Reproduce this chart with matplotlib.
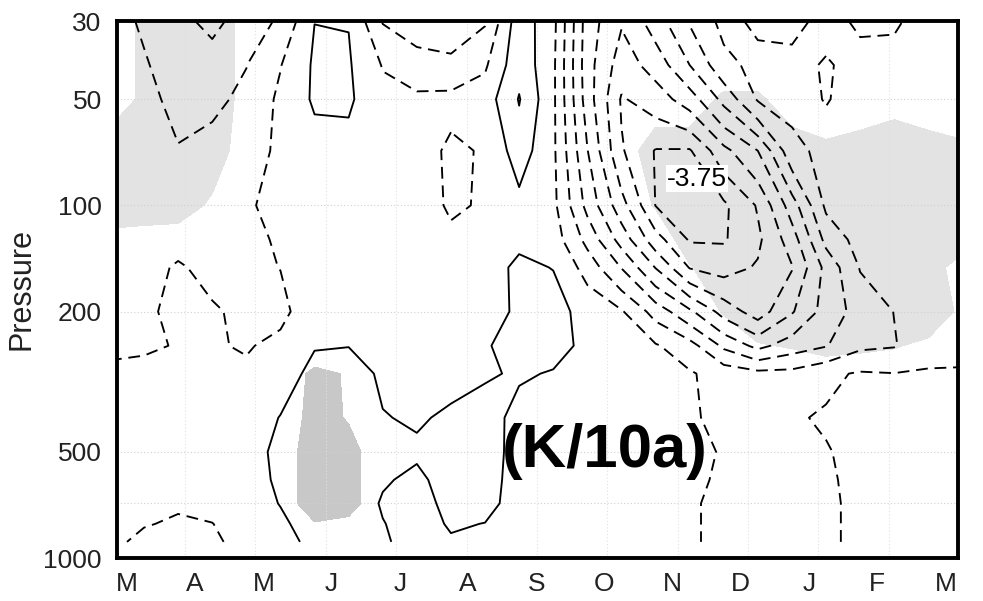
import numpy as np
import matplotlib
matplotlib.use("Agg")
import matplotlib.pyplot as plt
from matplotlib.ticker import NullLocator

plt.rcParams['font.family'] = ['Liberation Sans', 'DejaVu Sans']
plt.rcParams['lines.dashed_pattern'] = [6.3, 3.6]

# ---------------- data ----------------
month_labels = ["M", "A", "M", "J", "J", "A", "S", "O", "N", "D", "J", "F", "M"]
month_ticks = list(range(13))
pressure_ticks = [30, 50, 100, 200, 500, 1000]

# grid of the trend field: time (months from March) x pressure (hPa)
time_axis = [-0.25, 0.25, 0.75, 1.25, 1.75, 2.25, 2.75, 3.25, 3.75, 4.25, 4.75, 5.25, 5.75,
             6.25, 6.75, 7.25, 7.75, 8.25, 8.75, 9.25, 9.75, 10.25, 10.75, 11.25, 11.75, 12.25]
pressure_levels = [30, 40, 50, 70, 100, 125, 150, 200, 250, 300, 400, 500, 600, 700, 800, 900]

# temperature trend (K/10a), one row per pressure level
trend_p30 = [-0.55, -0.82, -1.1, -1.4, -1.0, -0.68, 0.245, 0.235, -0.78, -1.0, -1.0, -0.8, 0.55, -0.1, -2.0, -2.7, -2.0, -1.2, -0.6, -0.85, -0.85, -0.65, -0.8, -0.8, -0.6, -0.55]
trend_p40 = [-0.6, -0.7, -1.0, -1.0, -0.76, -0.27, 0.32, 0.3, -0.28, -0.55, -0.65, -0.32, 0.6, -0.15, -2.05, -3.0, -2.55, -1.75, -0.9, -0.6, -0.65, -0.78, -0.65, -0.62, -0.55, -0.5]
trend_p50 = [-0.6, -0.6, -0.9, -0.85, -0.65, -0.15, 0.32, 0.32, -0.1, -0.15, -0.1, 0.0, 0.78, -0.15, -2.0, -3.3, -3.0, -2.5, -1.6, -0.7, -0.6, -0.77, -0.62, -0.58, -0.5, -0.5]
trend_p70 = [-0.55, -0.55, -0.72, -0.6, -0.6, -0.1, 0.05, 0.1, 0.0, 0.0, -0.35, -0.2, 0.5, -0.15, -1.73, -3.2, -3.78, -3.8, -2.9, -2.25, -0.9, -0.6, -0.6, -0.55, -0.5, -0.5]
trend_p100 = [-0.5, -0.5, -0.55, -0.5, -0.31, -0.1, -0.05, 0.0, 0.0, 0.0, -0.32, -0.2, 0.1, -0.12, -1.4, -2.55, -3.76, -3.9, -3.85, -3.2, -2.0, -0.65, -0.55, -0.55, -0.5, -0.5]
trend_p125 = [-0.5, -0.45, -0.4, -0.45, -0.4, -0.18, -0.05, 0.0, 0.0, 0.0, -0.15, 0.05, 0.18, 0.0, -0.9, -1.95, -3.05, -3.8, -3.8, -3.35, -2.5, -1.1, -0.55, -0.55, -0.5, -0.5]
trend_p150 = [-0.45, -0.4, -0.2, -0.38, -0.38, -0.24, 0.0, 0.05, 0.05, 0.0, -0.05, 0.1, 0.32, 0.24, -0.45, -1.27, -2.27, -3.28, -3.45, -3.2, -2.78, -1.6, -0.72, -0.6, -0.5, -0.5]
trend_p200 = [-0.4, -0.32, -0.15, -0.2, -0.35, -0.4, 0.1, 0.12, 0.08, 0.05, 0.0, 0.0, 0.35, 0.4, 0.1, -0.2, -0.95, -1.65, -2.45, -3.0, -2.3, -1.55, -1.05, -0.74, -0.5, -0.45]
trend_p250 = [-0.3, -0.3, -0.23, -0.2, -0.3, -0.1, 0.22, 0.24, 0.12, 0.1, 0.05, 0.22, 0.38, 0.4, 0.15, 0.0, -0.2, -0.55, -1.35, -1.9, -1.5, -1.28, -0.85, -0.78, -0.45, -0.4]
trend_p300 = [-0.2, -0.15, -0.05, -0.1, -0.15, 0.0, 0.4, 0.45, 0.18, 0.12, 0.12, 0.2, 0.3, 0.22, 0.05, -0.05, -0.1, -0.2, -0.45, -0.6, -0.6, -0.35, -0.2, -0.24, -0.2, -0.2]
trend_p400 = [-0.1, -0.05, 0.0, -0.05, -0.05, 0.27, 0.55, 0.65, 0.27, 0.2, 0.32, 0.45, 0.1, 0.0, -0.05, -0.1, -0.1, -0.2, -0.35, -0.4, -0.3, -0.2, -0.12, -0.1, -0.08, -0.05]
trend_p500 = [-0.05, 0.0, 0.0, 0.0, 0.0, 0.4, 0.65, 0.7, 0.35, 0.32, 0.45, 0.5, 0.05, -0.05, -0.1, -0.1, -0.15, -0.18, -0.27, -0.4, -0.35, -0.28, -0.12, -0.1, -0.08, -0.05]
trend_p600 = [0.0, 0.0, -0.05, 0.0, 0.0, 0.35, 0.65, 0.65, 0.3, 0.15, 0.45, 0.45, 0.05, -0.05, -0.1, -0.1, -0.15, -0.18, -0.3, -0.4, -0.35, -0.32, -0.12, -0.1, -0.08, -0.05]
trend_p700 = [-0.05, -0.1, -0.15, -0.1, 0.0, 0.27, 0.6, 0.6, 0.2, 0.05, 0.4, 0.4, 0.05, -0.05, -0.1, -0.1, -0.15, -0.2, -0.35, -0.4, -0.35, -0.35, -0.12, -0.1, -0.08, -0.05]
trend_p800 = [-0.1, -0.2, -0.35, -0.26, 0.0, 0.15, 0.5, 0.5, 0.27, 0.05, 0.3, 0.24, 0.0, -0.05, -0.1, -0.1, -0.15, -0.2, -0.35, -0.38, -0.35, -0.35, -0.12, -0.1, -0.08, -0.05]
trend_p900 = [-0.05, -0.45, -0.5, -0.35, -0.05, 0.05, 0.4, 0.4, 0.3, 0.1, 0.2, 0.15, 0.0, -0.05, -0.1, -0.1, -0.15, -0.2, -0.35, -0.38, -0.35, -0.35, -0.12, -0.1, -0.08, -0.05]

# significance (0-9 per grid cell): light = significant cooling, dark = significant warming
sig_cooling = [
    "06992000000000000000000000",
    "06992000000000000000000000",
    "06992000000000000066000200",
    "99990000000000009999968986",
    "99930000000000005999999999",
    "21000000000000000899999999",
    "00000000000000000499999990",
    "00000000000000000059999993",
    "00000000000000000004576530",
    "00000000000000000000000000",
    "00000000000000000000000000",
    "00000000000000000000000000",
    "00000000000000000000000000",
    "00000000000000000000000000",
    "00000000000000000000000000",
    "00000000000000000000000000",
]
sig_warming = [
    "00000000000000000000000000",
    "00000000000000000000000000",
    "00000000000000000000000000",
    "00000000000000000000000000",
    "00000000000000000000000000",
    "00000000000000000000000000",
    "00000000000000000000000000",
    "00000000000000000000000000",
    "00000000000000000000000000",
    "00000064000000000000000000",
    "00000074000000000000000000",
    "00000097000000000000000000",
    "00000097000000000000000000",
    "00000097000000000000000000",
    "00000043000000000000000000",
    "00000000000000000000000000",
]

neg_levels = [-3.75, -3.25, -2.75, -2.25, -1.75, -1.25, -0.75, -0.25]
pos_levels = [0.25, 0.75]

# ---------------- plot ----------------
trend = np.array([trend_p30, trend_p40, trend_p50, trend_p70, trend_p100, trend_p125,
                  trend_p150, trend_p200, trend_p250, trend_p300, trend_p400, trend_p500,
                  trend_p600, trend_p700, trend_p800, trend_p900])
cool = np.array([[int(c) for c in r] for r in sig_cooling], dtype=float)
warm = np.array([[int(c) for c in r] for r in sig_warming], dtype=float)
X, Y = np.meshgrid(time_axis, pressure_levels)

fig = plt.figure(figsize=(9.83, 6.01), dpi=100)
ax = fig.add_axes([117 / 983, 1 - 558 / 601, (958 - 117) / 983, (558 - 21) / 601])
ax.set_yscale('log')

ax.contourf(X, Y, cool, levels=[4.5, 10], colors=['#e3e3e3'], zorder=1)
ax.contourf(X, Y, warm, levels=[4.5, 10], colors=['#c8c8c8'], zorder=1)

for p in [50, 100, 200, 500, 700]:
    ax.axhline(p, color='#d0d0d0', lw=0.8, ls=(0, (1, 2)), zorder=2)
for xg in [0.85, 1.88, 2.92, 3.94, 4.98, 6.01, 7.04, 8.08, 9.11, 10.13, 11.17]:
    ax.axvline(xg, color='#e0e0e0', lw=0.8, ls=(0, (1, 2)), zorder=2)

ax.contour(X, Y, trend, levels=neg_levels, colors='black', linewidths=1.35,
           linestyles='dashed', zorder=3)
ax.contour(X, Y, trend, levels=pos_levels, colors='black', linewidths=1.35,
           linestyles='solid', zorder=3)

ax.text(8.36, 84, '-3.75', fontsize=19, ha='center', va='center', zorder=4,
        bbox=dict(facecolor='white', edgecolor='none', pad=1.0))
ax.text(7.0, 500, '(K/10a)', fontsize=44.5, fontweight='bold', ha='center', va='center', zorder=5)

ax.set_xlim(-0.1466, 12.185)
ax.set_ylim(1000, 30)
ax.set_yticks(pressure_ticks)
ax.set_yticklabels([str(p) for p in pressure_ticks])
ax.yaxis.set_minor_locator(NullLocator())
ax.set_xticks(month_ticks)
ax.set_xticklabels(month_labels)
ax.tick_params(axis='both', length=0, labelsize=19, colors='#222222')
ax.tick_params(axis='y', pad=11)
ax.tick_params(axis='x', pad=10)
ax.set_ylabel('Pressure', fontsize=22, labelpad=5, color='#222222')
for s in ax.spines.values():
    s.set_linewidth(2.8)
    s.set_color('black')

fig.savefig('out.png', dpi=100)
